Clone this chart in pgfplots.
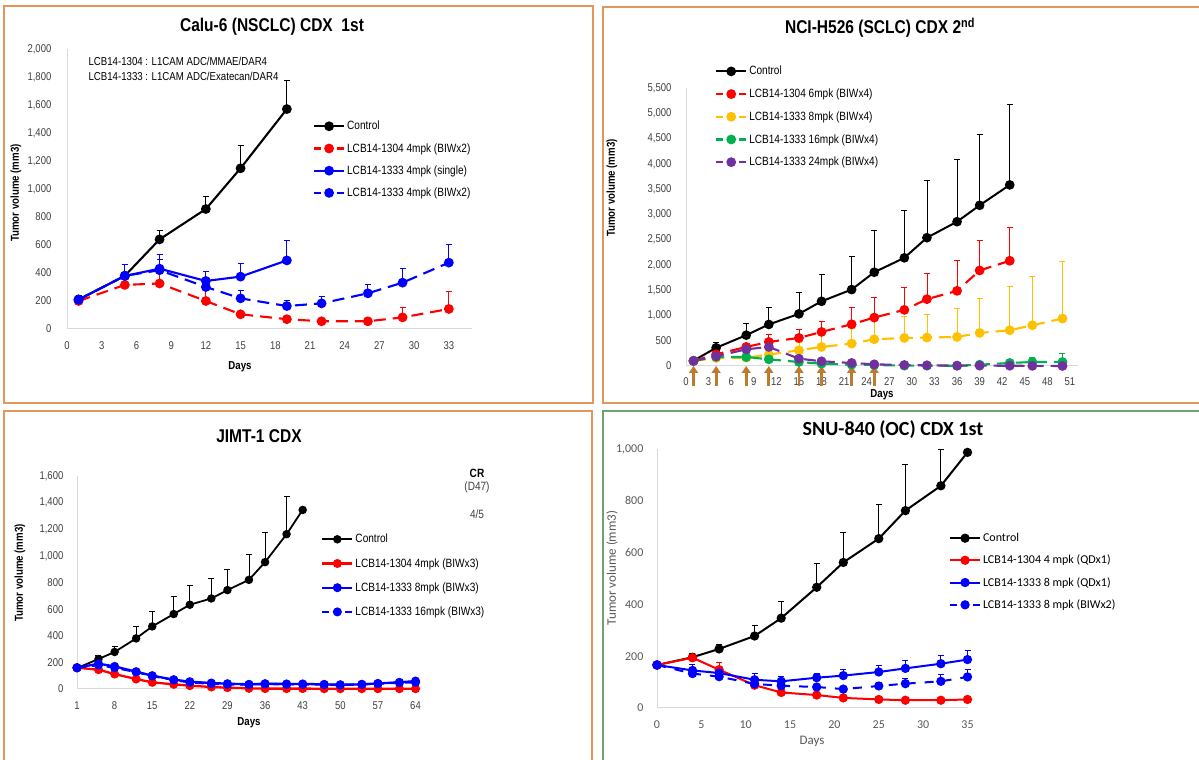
\documentclass[border=0pt]{standalone}
\usepackage{fontspec}
\usepackage{pgfplots}
\pgfplotsset{compat=1.18}
\usetikzlibrary{arrows.meta}
\setmainfont{Liberation Sans}
\newfontfamily\cond[FakeStretch=0.84]{Liberation Sans}
\newfontfamily\calib{Carlito}

\definecolor{frameor}{RGB}{226,150,90}
\definecolor{framegr}{RGB}{112,162,112}
\definecolor{tickgray}{RGB}{64,64,64}
\definecolor{tickgray2}{RGB}{89,89,89}
\definecolor{axgray}{RGB}{217,217,217}
\definecolor{cred}{RGB}{255,0,0}
\definecolor{cblue}{RGB}{0,0,255}
\definecolor{cgold}{RGB}{255,192,0}
\definecolor{cgreen}{RGB}{0,176,80}
\definecolor{cpurple}{RGB}{112,48,160}
\definecolor{arrowbr}{RGB}{192,122,44}

\pgfplotsset{
  panel/.style={
    scale only axis,
    axis lines=left,
    axis line style={-, draw=axgray, line width=1pt},
    tick style={draw=none},
    clip=false,
    /pgf/number format/assume math mode=true,
    /pgf/number format/1000 sep={,},
    scaled ticks=false,
    legend cell align=left,
    legend style={draw=none, fill=none, inner sep=0pt, row sep=8pt},
    legend image code/.code={\draw[mark repeat=2,mark phase=2,##1] plot coordinates {(0pt,0pt) (15pt,0pt) (30pt,0pt)};},
    error bars/y dir=plus,
    error bars/y explicit,
    error bars/error bar style={solid, line width=0.8pt},
    error bars/error mark options={rotate=90, solid, mark size=3pt, line width=0.8pt},
  },
  condfont/.style={
    tick label style={font=\cond\fontsize{11.3}{13}\selectfont, text=tickgray},
    legend style={font=\cond\fontsize{12}{14}\selectfont},
  },
  ser/.style={line width=2.1pt, mark=*, mark size=3.8pt, mark options={solid}},
  dash1/.style={dash pattern=on 12pt off 7pt, legend image post style={dash pattern=on 7pt off 16pt}},
  dash2/.style={dash pattern=on 9pt off 6pt, legend image post style={dash pattern=on 7pt off 16pt}},
  dash3/.style={dash pattern=on 9pt off 9pt, legend image post style={dash pattern=on 7pt off 16pt}},
}

\begin{document}
\begin{tikzpicture}[x=1pt,y=1pt]
\useasboundingbox (0,0) rectangle (1199,760);
\fill[white] (0,0) rectangle (1199,760);
\begin{scope}
  \clip (0,0) rectangle (1199,760);
  \draw[frameor, line width=1.5pt] (4,754) rectangle (593,357);
  \draw[frameor, line width=1.5pt] (603,753) rectangle (1215,357);
  \draw[frameor, line width=1.5pt] (4,349) rectangle (592,-20);
  \draw[framegr, line width=1.5pt] (603,349) rectangle (1215,-20);
\end{scope}

% ---------------- Calu-6 ----------------
\node[font=\cond\bfseries\fontsize{18.5}{20}\selectfont] at (272,733) {Calu-6 (NSCLC) CDX\ \ 1st};
\node[rotate=90, font=\cond\bfseries\fontsize{11.5}{13}\selectfont] at (16,567) {Tumor volume (mm3)};
\node[font=\cond\bfseries\fontsize{11.5}{13}\selectfont] at (240,393) {Days};
\node[anchor=west, align=left, font=\cond\fontsize{11.5}{15}\selectfont] at (85,691) {LCB14-1304 : L1CAM ADC/MMAE/DAR4\\LCB14-1333 : L1CAM ADC/Exatecan/DAR4};
\begin{axis}[panel, condfont, at={(67pt,431pt)}, anchor=south west,
  width=405pt, height=280pt,
  xmin=0, xmax=35, ymin=0, ymax=2000,
  xtick={0,3,...,33}, ytick={0,200,...,2000},
  yticklabel style={xshift=-10pt}, xticklabel style={yshift=-7pt},
  legend style={at={(0.607,0.75)}, anchor=north west}]
\addplot[ser, black] coordinates {(1,210) +- (0,30) (5,380) +- (0,80) (8,640) +- (0,67) (12,857) +- (0,93) (15,1148) +- (0,166) (19,1571) +- (0,208)};
\addlegendentry{Control}
\addplot[ser, cred, dash1] coordinates {(1,200) +- (0,20) (5,315) +- (0,20) (8,325) +- (0,95) (12,200) +- (0,85) (15,105) +- (0,20) (19,70) +- (0,10) (22,55) +- (0,10) (26,55) +- (0,20) (29,83) +- (0,72) (33,143) +- (0,126)};
\addlegendentry{LCB14-1304 4mpk (BIWx2)}
\addplot[ser, cblue] coordinates {(1,210) +- (0,20) (5,379) +- (0,83) (8,431) +- (0,102) (12,343) +- (0,71) (15,374) +- (0,97) (19,490) +- (0,146)};
\addlegendentry{LCB14-1333 4mpk (single)}
\addplot[ser, cblue, dash1] coordinates {(1,210) +- (0,20) (5,380) +- (0,80) (8,420) +- (0,80) (12,300) +- (0,50) (15,219) +- (0,57) (19,164) +- (0,43) (22,183) +- (0,53) (26,255) +- (0,64) (29,331) +- (0,102) (33,474) +- (0,133)};
\addlegendentry{LCB14-1333 4mpk (BIWx2)}
\end{axis}

% ---------------- NCI-H526 ----------------
\node[font=\cond\bfseries\fontsize{18.5}{20}\selectfont] at (880,732) {NCI-H526 (SCLC) CDX 2\textsuperscript{nd}};
\node[rotate=90, font=\cond\bfseries\fontsize{11.5}{13}\selectfont] at (612,572) {Tumor volume (mm3)};
\node[font=\cond\bfseries\fontsize{11.5}{13}\selectfont] at (882,365) {Days};
\begin{axis}[panel, condfont, at={(686pt,394pt)}, anchor=south west,
  width=391.5pt, height=278pt,
  xmin=0, xmax=52, ymin=0, ymax=5500,
  xtick={0,3,...,51}, ytick={0,500,...,5500},
  yticklabel style={xshift=-9pt}, xticklabel style={yshift=-6pt},
  legend style={at={(0.074,1.086)}, anchor=north west, row sep=8.5pt}]
\pgfplotsinvokeforeach{1,4,8,11,15,18,22,25}{
  \draw[arrowbr, line width=2.8pt, -{Triangle[width=9pt,length=7pt]}] ([yshift=-20pt]axis cs:#1,0) -- (axis cs:#1,0);
}
\addplot[ser, black, line width=2pt] coordinates {(1,105) +- (0,0) (4,360) +- (0,115) (8,610) +- (0,225) (11,822) +- (0,333) (15,1031) +- (0,423) (18,1280) +- (0,530) (22,1512) +- (0,655) (25,1855) +- (0,833) (29,2140) +- (0,932) (32,2538) +- (0,1130) (36,2855) +- (0,1230) (39,3179) +- (0,1395) (43,3583) +- (0,1598)};
\addlegendentry{Control}
\addplot[ser, cred, dash1] coordinates {(1,100) +- (0,0) (4,231) +- (0,30) (8,377) +- (0,79) (11,476) +- (0,145) (15,555) +- (0,165) (18,674) +- (0,218) (22,826) +- (0,324) (25,958) +- (0,390) (29,1110) +- (0,443) (32,1322) +- (0,509) (36,1487) +- (0,608) (39,1890) +- (0,602) (43,2082) +- (0,655)};
\addlegendentry{LCB14-1304 6mpk (BIWx4)}
\addplot[ser, cgold, dash1] coordinates {(1,100) +- (0,0) (4,159) +- (0,20) (8,165) +- (0,40) (11,225) +- (0,80) (15,311) +- (0,150) (18,377) +- (0,250) (22,443) +- (0,300) (25,529) +- (0,400) (29,555) +- (0,430) (32,562) +- (0,456) (36,575) +- (0,555) (39,654) +- (0,675) (43,707) +- (0,860) (46,806) +- (0,972) (50,939) +- (0,1123)};
\addlegendentry{LCB14-1333 8mpk (BIWx4)}
\addplot[ser, cgreen, dash1] coordinates {(1,100) +- (0,0) (4,180) +- (0,20) (8,178) +- (0,30) (11,132) +- (0,25) (15,79) +- (0,15) (18,46) +- (0,10) (22,26) +- (0,8) (25,20) +- (0,6) (29,7) +- (0,5) (32,7) +- (0,5) (36,5) +- (0,5) (39,26) +- (0,20) (43,60) +- (0,52) (46,79) +- (0,86) (50,79) +- (0,166)};
\addlegendentry{LCB14-1333 16mpk (BIWx4)}
\addplot[ser, cpurple, dash1] coordinates {(1,100) +- (0,0) (4,192) +- (0,20) (8,330) +- (0,30) (11,377) +- (0,30) (15,145) +- (0,20) (18,93) +- (0,15) (22,60) +- (0,10) (25,33) +- (0,8) (29,20) +- (0,5) (32,13) +- (0,5) (36,7) +- (0,3) (39,7) +- (0,3) (43,5) +- (0,3) (46,3) +- (0,2) (50,0) +- (0,0)};
\addlegendentry{LCB14-1333 24mpk (BIWx4)}
\end{axis}

% ---------------- JIMT-1 ----------------
\node[font=\cond\bfseries\fontsize{18.5}{20}\selectfont] at (259,324) {JIMT-1 CDX};
\node[rotate=90, font=\cond\bfseries\fontsize{11.5}{13}\selectfont] at (20,187) {Tumor volume (mm3)};
\node[font=\cond\bfseries\fontsize{11.5}{13}\selectfont] at (249,37) {Days};
\node[font=\cond\bfseries\fontsize{12}{14}\selectfont] at (477,287) {CR};
\node[font=\cond\fontsize{12}{14}\selectfont, text=tickgray] at (477,273) {(D47)};
\node[font=\cond\fontsize{12}{14}\selectfont, text=tickgray] at (477,246) {4/5};
\begin{axis}[panel, condfont, at={(77pt,71pt)}, anchor=south west,
  width=343.9pt, height=213pt,
  xmin=1, xmax=65, ymin=0, ymax=1600,
  xtick={1,8,...,64}, ytick={0,200,...,1600},
  yticklabel style={xshift=-8pt}, xticklabel style={yshift=-7pt},
  legend style={at={(0.7095,0.737)}, anchor=north west, row sep=10pt},
  ser/.append style={mark size=3.3pt, line width=2.3pt}]
\addplot[ser, black, line width=1.8pt] coordinates {(1,157) +- (0,0) (5,225) +- (0,30) (8,278) +- (0,42) (12,380) +- (0,93) (15,470) +- (0,115) (19,563) +- (0,132) (22,633) +- (0,142) (26,680) +- (0,148) (29,743) +- (0,152) (33,820) +- (0,193) (36,953) +- (0,222) (40,1163) +- (0,280) (43,1345) +- (0,0)};
\addlegendentry{Control}
\addplot[ser, cred] coordinates {(1,160) +- (0,5) (5,145) +- (0,10) (8,112) +- (0,10) (12,75) +- (0,8) (15,50) +- (0,6) (19,35) +- (0,5) (22,25) +- (0,4) (26,15) +- (0,3) (29,10) +- (0,2) (33,5) +- (0,2) (36,3) +- (0,1) (40,3) +- (0,1) (43,3) +- (0,1) (47,2) +- (0,1) (50,2) +- (0,1) (54,2) +- (0,1) (57,2) +- (0,1) (61,2) +- (0,1) (64,2) +- (0,1)};
\addlegendentry{LCB14-1304 4mpk (BIWx3)}
\addplot[ser, cblue] coordinates {(1,160) +- (0,5) (5,190) +- (0,12) (8,170) +- (0,15) (12,130) +- (0,12) (15,100) +- (0,10) (19,70) +- (0,8) (22,55) +- (0,6) (26,45) +- (0,5) (29,40) +- (0,5) (33,35) +- (0,5) (36,40) +- (0,5) (40,38) +- (0,5) (43,38) +- (0,5) (47,35) +- (0,5) (50,32) +- (0,5) (54,35) +- (0,5) (57,42) +- (0,6) (61,50) +- (0,8) (64,60) +- (0,10)};
\addlegendentry{LCB14-1333 8mpk (BIWx3)}
\addplot[ser, cblue, dash2] coordinates {(1,160) +- (0,5) (5,180) +- (0,10) (8,160) +- (0,12) (12,128) +- (0,10) (15,98) +- (0,8) (19,68) +- (0,6) (22,50) +- (0,5) (26,40) +- (0,5) (29,35) +- (0,4) (33,33) +- (0,4) (36,38) +- (0,4) (40,35) +- (0,4) (43,35) +- (0,4) (47,33) +- (0,4) (50,30) +- (0,4) (54,35) +- (0,4) (57,40) +- (0,5) (61,48) +- (0,6) (64,50) +- (0,8)};
\addlegendentry{LCB14-1333 16mpk (BIWx3)}
\end{axis}

% ---------------- SNU-840 ----------------
\node[font=\calib\bfseries\fontsize{20}{22}\selectfont] at (893,330) {SNU-840 (OC) CDX 1st};
\node[rotate=90, font=\calib\fontsize{13}{15}\selectfont, text=tickgray2] at (612,192) {Tumor volume (mm3)};
\node[font=\calib\fontsize{13}{15}\selectfont, text=tickgray2] at (812,19) {Days};
\begin{axis}[panel, at={(657pt,52pt)}, anchor=south west,
  width=310.5pt, height=259pt,
  xmin=0, xmax=35, ymin=0, ymax=1000,
  xtick={0,5,...,35}, ytick={0,200,...,1000},
  tick label style={font=\calib\fontsize{12}{14}\selectfont, text=tickgray2},
  legend style={font=\calib\fontsize{12}{14}\selectfont, at={(0.94,0.683)}, anchor=north west, row sep=8pt},
  yticklabel style={xshift=-8pt}, xticklabel style={yshift=-7pt},
  ser/.append style={mark size=3.6pt, line width=2pt}]
\addplot[ser, black] coordinates {(0,166) +- (0,0) (4,196) +- (0,14) (7,228) +- (0,19) (11,278) +- (0,40) (14,347) +- (0,63) (18,466) +- (0,92) (21,562) +- (0,116) (25,654) +- (0,134) (28,762) +- (0,180) (32,858) +- (0,142) (35,987) +- (0,0)};
\addlegendentry{Control}
\addplot[ser, cred] coordinates {(0,166) +- (0,0) (4,194) +- (0,12) (7,148) +- (0,28) (11,88) +- (0,8) (14,60) +- (0,5) (18,50) +- (0,5) (21,39) +- (0,4) (25,33) +- (0,4) (28,30) +- (0,3) (32,30) +- (0,3) (35,33) +- (0,3)};
\addlegendentry{LCB14-1304 4 mpk (QDx1)}
\addplot[ser, cblue] coordinates {(0,166) +- (0,0) (4,145) +- (0,22) (7,135) +- (0,15) (11,109) +- (0,24) (14,103) +- (0,19) (18,117) +- (0,18) (21,125) +- (0,25) (25,139) +- (0,26) (28,153) +- (0,32) (32,171) +- (0,31) (35,187) +- (0,34)};
\addlegendentry{LCB14-1333 8 mpk (QDx1)}
\addplot[ser, cblue, dash3] coordinates {(0,166) +- (0,0) (4,133) +- (0,10) (7,121) +- (0,10) (11,93) +- (0,10) (14,86) +- (0,10) (18,81) +- (0,10) (21,73) +- (0,10) (25,85) +- (0,14) (28,94) +- (0,22) (32,103) +- (0,26) (35,120) +- (0,30)};
\addlegendentry{LCB14-1333 8 mpk (BIWx2)}
\end{axis}
\end{tikzpicture}
\end{document}
